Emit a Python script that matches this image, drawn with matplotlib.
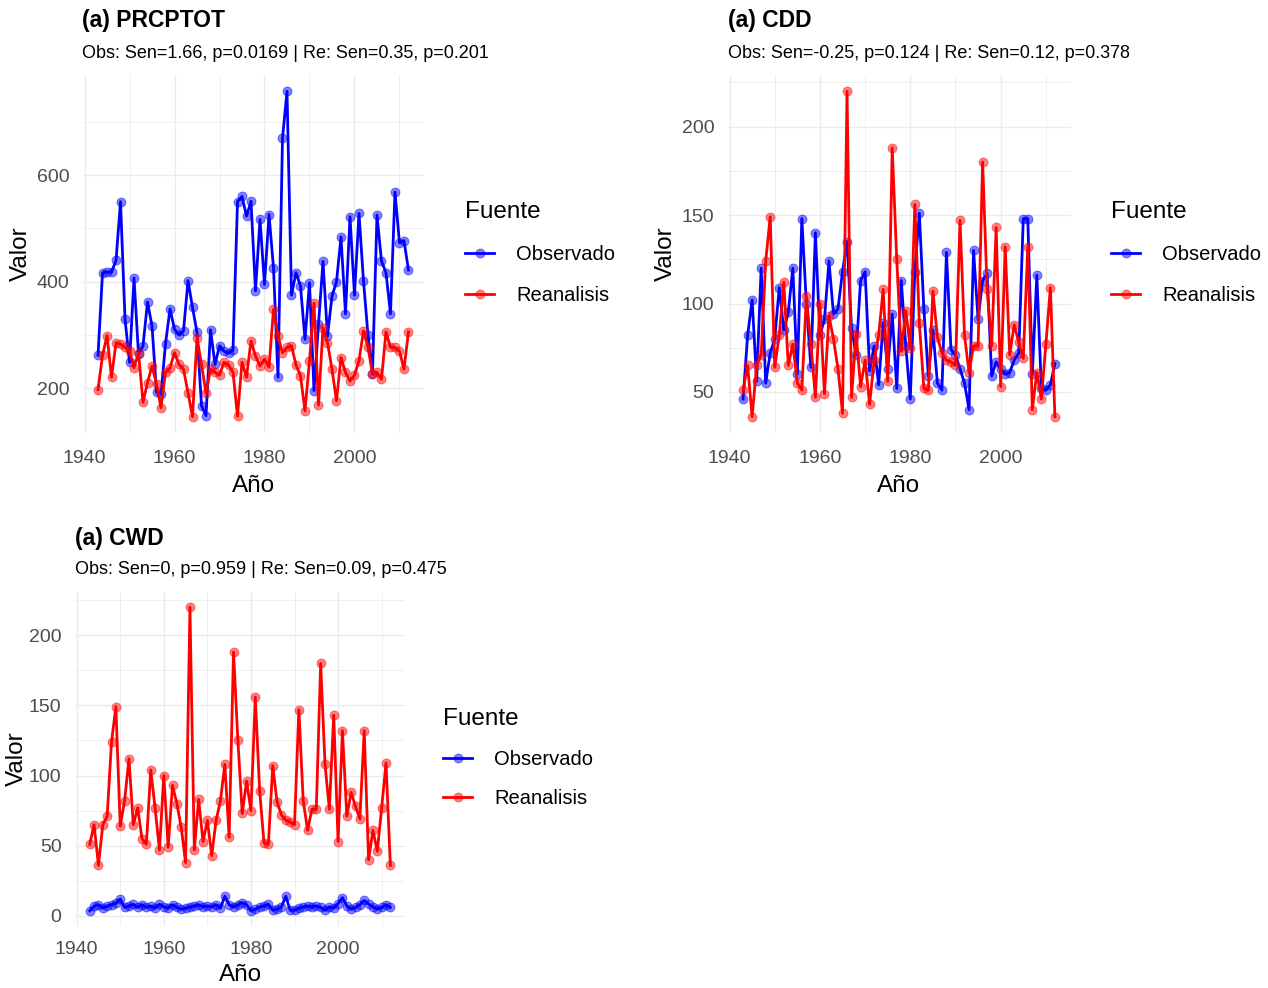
import numpy as np
import matplotlib
matplotlib.use("Agg")
import matplotlib.pyplot as plt
from matplotlib.ticker import MultipleLocator

# ---------------------------------------------------------------- data
years = np.arange(1943, 2013)

prcptot_obs = [262, 417, 418, 418, 440, 550, 330, 249, 407, 264,
               280, 362, 317, 193, 189, 284, 349, 311, 300, 308,
               402, 352, 305, 168, 149, 310, 245, 280, 270, 266,
               272, 550, 560, 523, 551, 383, 517, 395, 526, 426,
               221, 669, 757, 375, 417, 392, 292, 398, 196, 320,
               438, 298, 373, 400, 484, 340, 522, 375, 528, 402,
               300, 227, 525, 439, 417, 340, 568, 473, 477, 422]

prcptot_re = [198, 262, 299, 221, 286, 283, 277, 270, 239, 266,
              174, 211, 242, 208, 164, 230, 239, 267, 245, 236,
              192, 147, 295, 245, 191, 236, 230, 225, 249, 244,
              230, 148, 249, 221, 289, 261, 242, 255, 240, 348,
              298, 267, 277, 280, 244, 224, 158, 252, 360, 169,
              314, 286, 236, 177, 258, 230, 214, 225, 252, 308,
              277, 227, 230, 217, 306, 277, 277, 270, 236, 306]

cdd_obs = [46, 82, 102, 56, 120, 55, 72, 80, 109, 85,
           95, 120, 60, 148, 100, 64, 140, 82, 91, 124,
           94, 97, 118, 135, 86, 71, 113, 118, 62, 76,
           54, 89, 63, 94, 52, 113, 76, 46, 118, 151,
           97, 59, 85, 55, 51, 129, 74, 71, 63, 55,
           40, 130, 91, 113, 117, 59, 67, 63, 60, 61,
           68, 72, 148, 148, 60, 116, 52, 51, 54, 66]

cdd_re = [51, 65, 36, 65, 71, 124, 149, 64, 82, 112,
          65, 77, 55, 51, 104, 77, 47, 100, 49, 93,
          80, 63, 38, 220, 47, 83, 53, 68, 43, 68,
          82, 108, 56, 188, 125, 73, 96, 75, 156, 89,
          52, 51, 107, 81, 72, 68, 67, 65, 147, 82,
          61, 76, 76, 180, 108, 76, 143, 53, 132, 71,
          88, 78, 69, 132, 40, 61, 46, 77, 109, 36]

cwd_obs = [3.6, 7, 8, 5.5, 7, 8, 9, 12, 6, 7,
           8.3, 6, 8, 6, 7, 5.5, 8.3, 6.4, 5.5, 8,
           6, 4.8, 5.5, 6.4, 7, 8, 6.5, 7, 6.4, 8,
           5.5, 14, 8, 6.4, 8, 9.5, 8, 3.6, 4.8, 6.4,
           7, 8.3, 4, 4.8, 6.4, 14, 4, 4, 5.5, 6.4,
           7, 6.4, 7, 6, 4, 6.4, 5.5, 8.8, 13, 7,
           4.8, 6, 8, 11, 8.3, 6.4, 4.8, 6, 8, 6]

cwd_re = cdd_re

titles = ["(a) PRCPTOT", "(a) CDD", "(a) CWD"]
subtitles = ["Obs: Sen=1.66, p=0.0169 | Re: Sen=0.35, p=0.201",
             "Obs: Sen=-0.25, p=0.124 | Re: Sen=0.12, p=0.378",
             "Obs: Sen=0, p=0.959 | Re: Sen=0.09, p=0.475"]
series_names = ["Observado", "Reanalisis"]
legend_title = "Fuente"

# ---------------------------------------------------------------- style
W, H = 1268, 988
plt.rcParams["font.family"] = ["Liberation Sans", "DejaVu Sans"]
fig = plt.figure(figsize=(W / 100, H / 100), dpi=100)
fig.patch.set_facecolor("white")

BLUE = "#0000FF"
RED = "#FF0000"
GRID = "#EBEBEB"
TICK = "#4D4D4D"


def add_axes_px(left, top, right, bottom):
    return fig.add_axes([left / W, 1 - bottom / H, (right - left) / W, (bottom - top) / H])


def panel(box, obs, re, title, subtitle, ymajor, title_y, sub_y,
          legend_xy, legend_spacing, ylabel_x, xlabel_y, xpad):
    left, top, right, bottom = box
    ax = add_axes_px(*box)
    for vals, col, name in ((obs, BLUE, series_names[0]), (re, RED, series_names[1])):
        rgba = matplotlib.colors.to_rgba(col, 0.5)
        ax.plot(years, vals, color=col, lw=2.0, marker="o", ms=6.5,
                mfc=rgba, mec=rgba, mew=0.6, label=name, solid_joinstyle="round")
    ax.margins(x=0.05, y=0.05)

    ax.xaxis.set_major_locator(MultipleLocator(20))
    ax.xaxis.set_minor_locator(MultipleLocator(10))
    ax.yaxis.set_major_locator(MultipleLocator(ymajor))
    ax.yaxis.set_minor_locator(MultipleLocator(ymajor / 2))
    ax.tick_params(which="both", length=0, labelsize=14, labelcolor=TICK)
    ax.tick_params(axis="y", pad=9.5)
    ax.tick_params(axis="x", pad=xpad)
    ax.grid(which="major", color=GRID, lw=1.0)
    ax.grid(which="minor", color=GRID, lw=0.55)
    ax.set_axisbelow(True)
    for s in ax.spines.values():
        s.set_visible(False)

    width = right - left
    height = bottom - top
    ax.set_xlabel("Año", fontsize=17.5)
    ax.set_ylabel("Valor", fontsize=17.5)
    ax.xaxis.set_label_coords(0.5, -(xlabel_y - bottom) / height)
    ax.xaxis.label.set_va("center")
    ax.yaxis.set_label_coords(-(left - ylabel_x) / width, 0.5)
    ax.yaxis.label.set_va("center")

    fig.text(left / W, 1 - title_y / H, title, fontsize=16.5, fontweight="bold",
             ha="left", va="center")
    fig.text(left / W, 1 - sub_y / H, subtitle, fontsize=13, ha="left", va="center")

    lx, ly = legend_xy
    ax.legend(loc="upper left", bbox_to_anchor=(lx / W, 1 - ly / H),
              bbox_transform=fig.transFigure, frameon=False, title=legend_title,
              title_fontsize=17.5, fontsize=14.5, handlelength=1.45,
              handletextpad=1.1, labelspacing=legend_spacing, borderpad=0,
              borderaxespad=0, alignment="left")
    return ax


panel((82.5, 75, 424, 433), prcptot_obs, prcptot_re, titles[0], subtitles[0], 200,
      20, 53, (465, 201), 1.1, 21, 486, 12)
panel((727.5, 75, 1070.5, 433), cdd_obs, cdd_re, titles[1], subtitles[1], 50,
      20, 53, (1111, 201), 1.1, 666, 486, 12)
panel((74.7, 592, 405.4, 926), cwd_obs, cwd_re, titles[2], subtitles[2], 50,
      539, 570, (443, 708), 1.0, 17, 975, 11)

fig.savefig("out.png", dpi=100, facecolor="white")
